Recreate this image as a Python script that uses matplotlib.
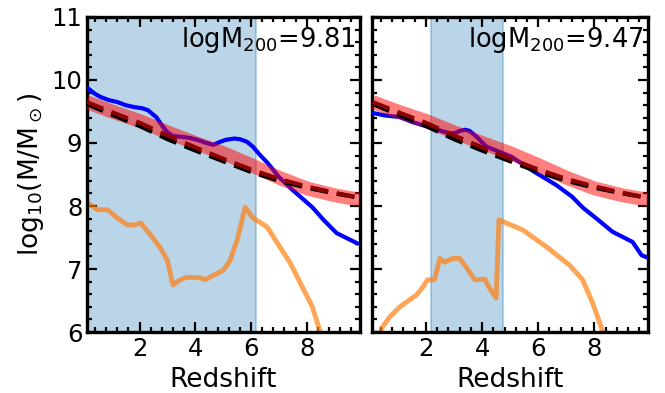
import numpy as np
import matplotlib
matplotlib.use("Agg")
import matplotlib.pyplot as plt
from matplotlib.ticker import AutoMinorLocator, MultipleLocator

# ---- data ----
# model band / dashed fits (shared shape in both panels)
z_mod = [0.1, 1.0, 2.0, 3.0, 4.0, 5.0, 6.0, 7.0, 8.0, 9.0, 9.9]
band = [9.65, 9.50, 9.35, 9.17, 9.00, 8.84, 8.65, 8.45, 8.28, 8.17, 8.10]
fit_red = [9.65, 9.49, 9.32, 9.12, 8.93, 8.75, 8.58, 8.43, 8.31, 8.21, 8.13]
fit_black = [9.62, 9.45, 9.27, 9.06, 8.88, 8.71, 8.54, 8.40, 8.29, 8.20, 8.13]

# halo 1 (logM200 = 9.81)
z_blue1 = [0.14, 0.4, 0.6, 0.9, 1.2, 1.5, 1.8, 2.1, 2.3, 2.6, 2.8, 3.0, 3.2, 3.46,
           3.8, 4.07, 4.4, 4.65, 4.9, 5.1, 5.4, 5.6, 5.85, 6.07, 6.3, 6.6, 7.0,
           7.5, 8.2, 8.6, 9.07, 9.8]
m_blue1 = [9.87, 9.78, 9.73, 9.68, 9.65, 9.60, 9.57, 9.55, 9.52, 9.41, 9.28, 9.17,
           9.11, 9.10, 9.08, 9.05, 9.00, 8.97, 9.02, 9.05, 9.07, 9.06, 9.02, 8.94,
           8.82, 8.68, 8.46, 8.25, 7.98, 7.78, 7.57, 7.41]
z_orng1 = [0.14, 0.5, 0.86, 1.2, 1.57, 1.8, 2.04, 2.4, 2.75, 3.0, 3.1, 3.2, 3.46,
           3.7, 4.18, 4.36, 4.65, 5.0, 5.25, 5.5, 5.79, 6.07, 6.57, 7.4, 8.2,
           8.46, 8.6]
m_orng1 = [8.05, 7.94, 7.94, 7.81, 7.70, 7.70, 7.73, 7.54, 7.33, 7.14, 6.94, 6.75,
           6.83, 6.87, 6.86, 6.83, 6.90, 6.98, 7.14, 7.46, 7.98, 7.81, 7.67, 7.10,
           6.40, 6.03, 5.80]

# halo 2 (logM200 = 9.47)
z_blue2 = [0.07, 0.5, 1.07, 1.3, 1.53, 2.13, 2.85, 3.05, 3.2, 3.4, 3.56, 3.8,
           4.16, 4.73, 5.05, 5.87, 6.65, 7.2, 7.6, 8.08, 8.65, 9.36, 9.68, 9.9]
m_blue2 = [9.48, 9.44, 9.41, 9.37, 9.33, 9.25, 9.15, 9.16, 9.19, 9.21, 9.19, 9.10,
           8.94, 8.84, 8.78, 8.54, 8.33, 8.15, 7.97, 7.80, 7.59, 7.43, 7.22, 7.18]
z_orng2 = [0.35, 0.42, 0.71, 1.07, 1.67, 1.9, 2.06, 2.3, 2.5, 2.67, 2.96, 3.2,
           3.45, 3.74, 4.1, 4.2, 4.38, 4.5, 4.6, 5.45, 6.3, 7.12, 7.58, 7.94,
           8.26, 8.35]
m_orng2 = [5.90, 6.06, 6.24, 6.40, 6.59, 6.72, 6.83, 6.83, 7.17, 7.11, 7.17, 7.17,
           7.02, 6.83, 6.84, 6.75, 6.62, 6.54, 7.78, 7.62, 7.35, 7.06, 6.83, 6.46,
           6.06, 5.90]

labels = [r"logM$_{200}$=9.81", r"logM$_{200}$=9.47"]
spans = [(0.0, 6.18), (2.17, 4.73)]
xlims = [(0.12, 9.9), (0.07, 9.9)]

fig = plt.figure(figsize=(6.65, 3.93), dpi=100)
ax1 = fig.add_axes([0.131, 0.155, 0.41, 0.802])
ax2 = fig.add_axes([0.559, 0.155, 0.415, 0.802], sharey=ax1)

panels = [(ax1, z_blue1, m_blue1, z_orng1, m_orng1),
          (ax2, z_blue2, m_blue2, z_orng2, m_orng2)]

for i, (ax, zb, mb, zo, mo) in enumerate(panels):
    ax.axvspan(*spans[i], color="C0", alpha=0.3, lw=1.5, zorder=0)
    ax.plot(zo, mo, color="C1", alpha=0.7, lw=3.5, zorder=2)
    ax.plot(zb, mb, color="blue", lw=3, zorder=3)
    ax.plot(z_mod, band, color="red", alpha=0.5, lw=10, solid_capstyle="butt", zorder=4)
    ax.plot(z_mod, fit_black, color="black", ls="--", dashes=(4.3, 2.1), lw=3, zorder=5)
    ax.plot(z_mod, fit_red, color="darkred", ls="--", dashes=(4.3, 2.1), lw=3, zorder=6)

    ax.text(0.985, 0.975, labels[i], transform=ax.transAxes, ha="right", va="top",
            fontsize=18.5)
    ax.set_xlim(*xlims[i])
    ax.set_ylim(6, 11)
    ax.xaxis.set_major_locator(MultipleLocator(2))
    ax.xaxis.set_minor_locator(AutoMinorLocator(5))
    ax.yaxis.set_major_locator(MultipleLocator(1))
    ax.yaxis.set_minor_locator(AutoMinorLocator(5))
    ax.tick_params(which="both", direction="in", top=True, right=True, width=1.6,
                   labelsize=17.5)
    ax.tick_params(which="major", length=7)
    ax.tick_params(which="minor", length=3.5)
    for s in ax.spines.values():
        s.set_linewidth(2.4)
    ax.set_xlabel("Redshift", fontsize=19)

ax1.set_ylabel(r"log$_{10}$(M/M$_\odot$)", fontsize=19)
ax2.tick_params(labelleft=False)

fig.savefig("out.png", dpi=100)
